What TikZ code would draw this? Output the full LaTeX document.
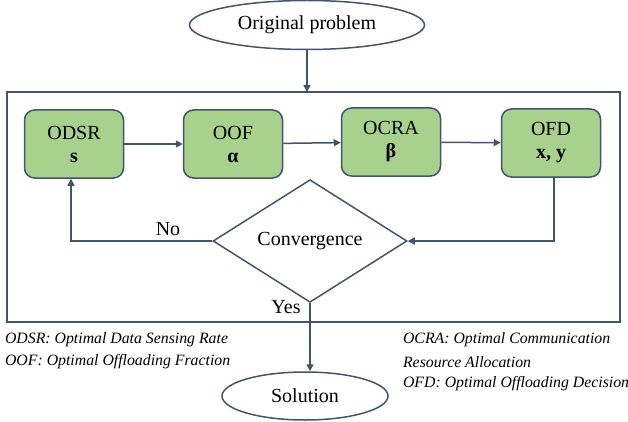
\documentclass[tikz,border=0pt]{standalone}
\usepackage{fontspec}
\setmainfont{Liberation Serif}
\usetikzlibrary{shapes.geometric,arrows.meta}
\definecolor{edgecol}{HTML}{44546A}
\definecolor{boxfill}{HTML}{A9D18E}
\begin{document}
\begin{tikzpicture}[x=1pt,y=-1pt,
  line width=1.5pt,
  conn/.style={draw=edgecol,-{Triangle[length=7pt,width=7pt]}},
  oval/.style={ellipse,draw=edgecol,inner sep=0pt,font=\fontsize{20}{22}\selectfont},
  stepbox/.style={draw=edgecol,fill=boxfill,rounded corners=10pt,minimum width=99pt,minimum height=68pt,
    align=center,font=\fontsize{20}{23}\selectfont},
  test/.style={diamond,draw=edgecol,inner sep=0pt,minimum width=194pt,minimum height=95pt,font=\fontsize{20}{22}\selectfont},
  note/.style={anchor=west,font=\fontsize{15.8}{18}\selectfont\itshape}]
\useasboundingbox (0,0) rectangle (628,422);
\node[oval,minimum width=235pt,minimum height=49pt] (orig) at (307,25) {Original problem};
\draw[draw=edgecol] (7,92) rectangle (620,322);
\coordinate (top) at (307,92);
\node[stepbox] (odsr) at (74,144) {ODSR\\\textbf{s}};
\node[stepbox] (oof) at (233,144) {OOF\\\textbf{α}};
\node[stepbox] (ocra) at (391,142) {OCRA\\\textbf{β}};
\node[stepbox] (ofd) at (551,143) {OFD\\\textbf{x, y}};
\node[test] (conv) at (310,241) {Convergence};
\node[oval,minimum width=166pt,minimum height=48pt] (sol) at (305,396) {Solution};
\draw[conn] (orig) -- (top);
\draw[conn] (odsr) -- (oof);
\draw[conn] (oof) -- (ocra);
\draw[conn] (ocra) -- (ofd);
\draw[conn] (ofd.south -| 554,0) |- (conv.east);
\draw[conn] (conv.west) -| (odsr.south -| 71,0);
\draw[conn] (conv.south) -- (sol.north -| conv.south);
\node[font=\fontsize{20}{22}\selectfont] (no) at (168,229) {No};
\node[font=\fontsize{20}{22}\selectfont] (yes) at (286,307) {Yes};
\node[note] (n1) at (1,340) {ODSR: Optimal Data Sensing Rate};
\node[note] (n2) at (1,362) {OOF: Optimal Offloading Fraction};
\node[note] (n3) at (399,340) {OCRA: Optimal Communication};
\node[note] (n4) at (399,362) {Resource Allocation};
\node[note] (n5) at (399,384) {OFD: Optimal Offloading Decision};
\end{tikzpicture}
\end{document}
